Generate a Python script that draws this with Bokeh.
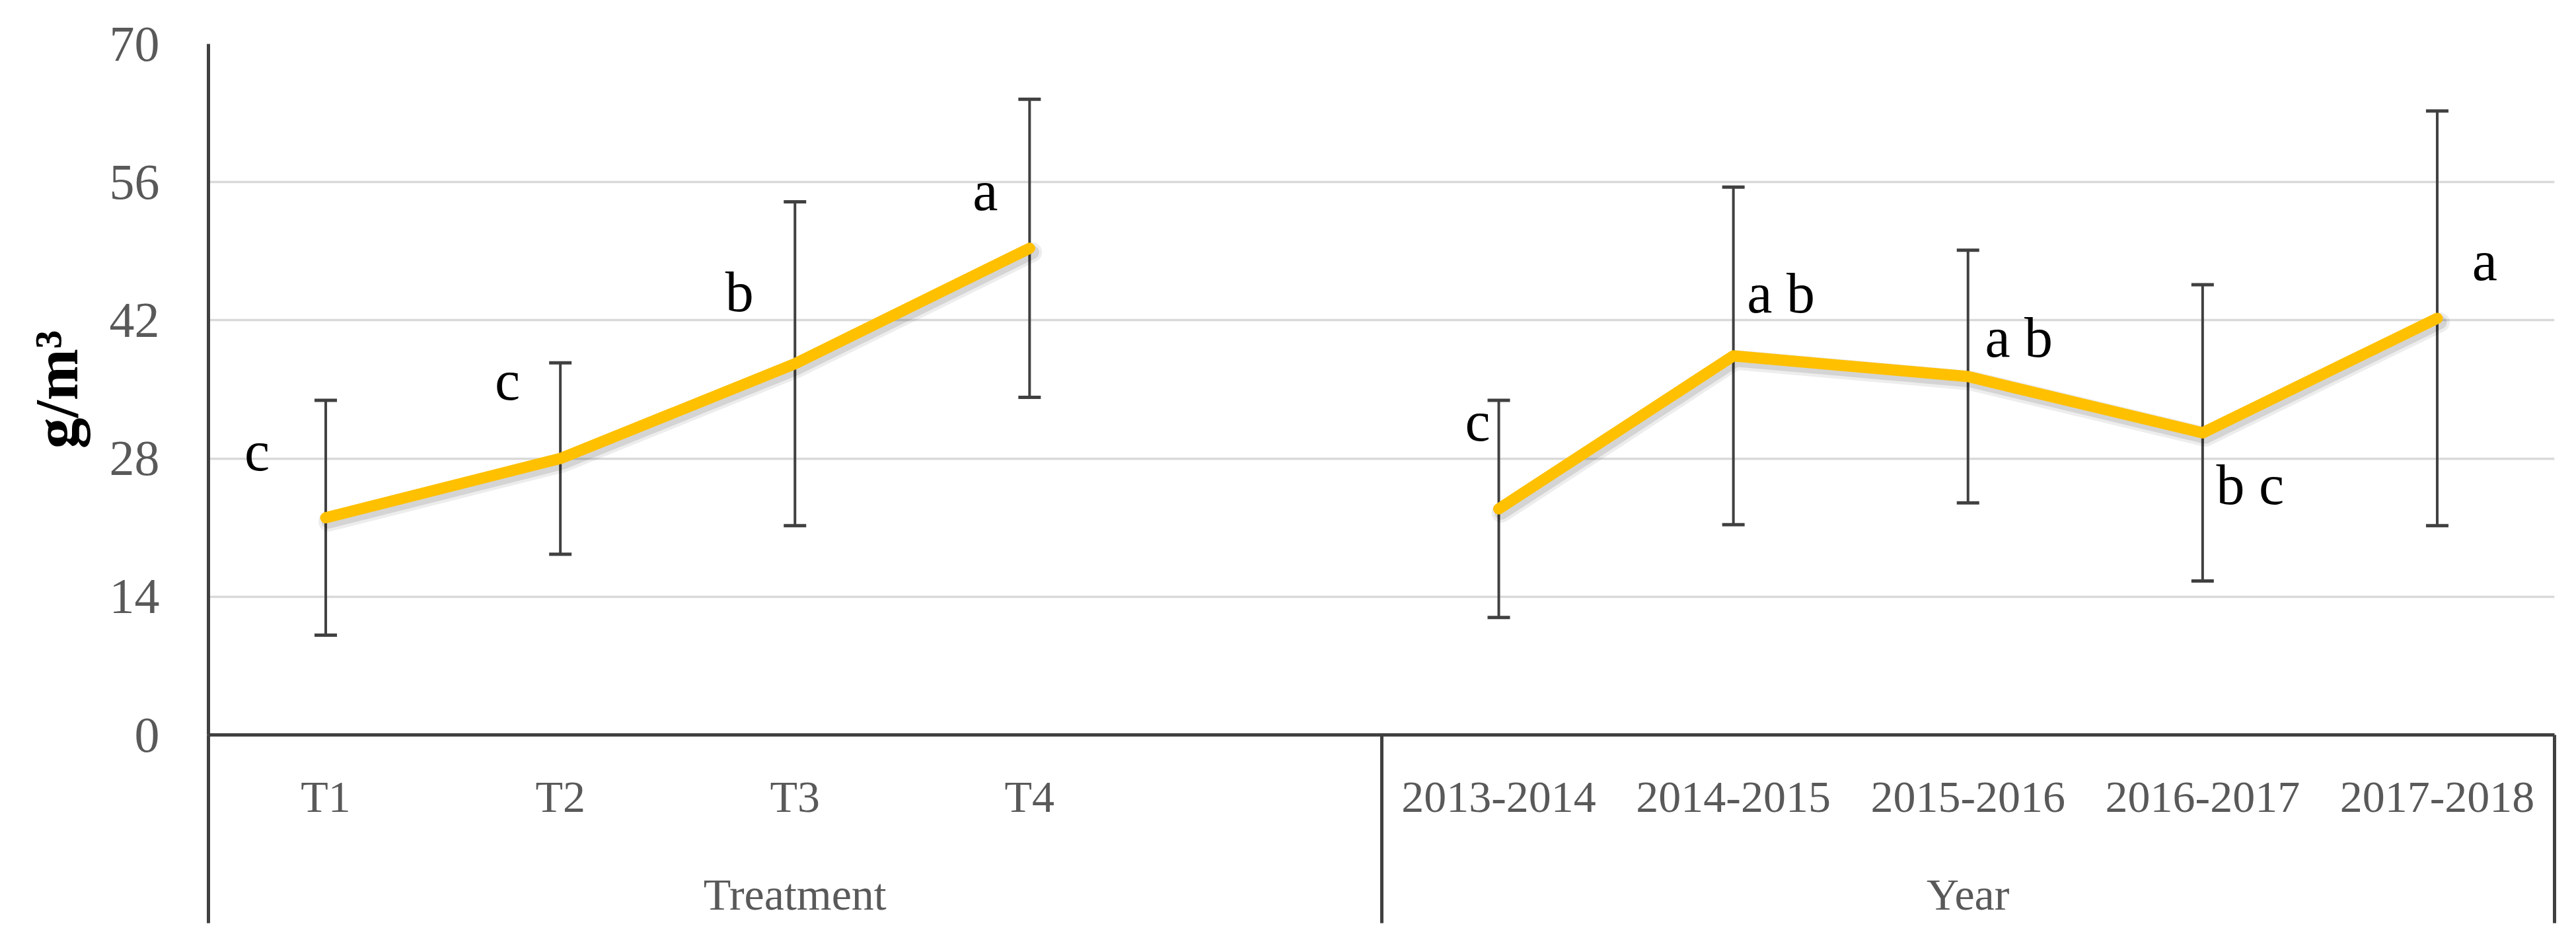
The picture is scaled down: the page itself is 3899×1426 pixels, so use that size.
from bokeh.plotting import figure
from bokeh.models import Range1d, LinearAxis, FixedTicker, ColumnDataSource, Grid
from bokeh.embed import file_html
from bokeh.resources import INLINE
from bokeh.core.properties import value

# ---------------- data ----------------
treatment_labels = ["T1", "T2", "T3", "T4"]
treatment_means = [22.0, 28.0, 37.6, 49.3]
treatment_err = [11.9, 9.7, 16.4, 15.1]
treatment_letters = ["c", "c", "b", "a"]

year_labels = ["2013-2014", "2014-2015", "2015-2016", "2016-2017", "2017-2018"]
year_means = [22.9, 38.4, 36.3, 30.6, 42.2]
year_err = [11.0, 17.1, 12.8, 15.0, 21.0]
year_letters = ["c", "a b", "a b", "b c", "a"]

group_labels = ["Treatment", "Year"]
y_ticks = [0, 14, 28, 42, 56, 70]
y_title = "g/m\u00b3"

# ---------------- layout / style ----------------
FONT = "Liberation Serif"
AX = "#404040"
TXT = "#595959"
LINE = "#FFC000"

# pixel offsets of the letter labels relative to their points (layout only)
t_lab_dx = [-104, -80, -84, -67]
t_lab_dy = [-101, -118, -109, -87]
y_lab_dx = [-32, 72, 77, 72, 72]
y_lab_dy = [-132, -95, -59, 79, -87]

n_t = len(treatment_labels)
gap = 1
t_x = list(range(n_t))
y_x = [n_t + gap + i for i in range(len(year_labels))]
n_slots = n_t + gap + len(year_labels)
bounds = [-0.5, n_t + gap - 0.5, n_slots - 0.5]
g_centers = [int((bounds[0] + bounds[1]) / 2), int((bounds[1] + bounds[2]) / 2)]

W, H = 3899, 1426
DIV_LEN = 285          # length of the category-area divider lines
CAT_GAP = 55           # gap between axis line and category labels

p = figure(width=W, height=H, output_backend="svg", toolbar_location=None,
           x_range=Range1d(bounds[0], bounds[-1]), y_range=Range1d(y_ticks[0], y_ticks[-1]),
           x_axis_type=None, y_axis_type=None,
           min_border_left=315, min_border_right=33, min_border_top=66, min_border_bottom=314)
p.outline_line_color = None
p.background_fill_color = "white"
p.border_fill_color = "white"

# y axis
yax = LinearAxis(ticker=FixedTicker(ticks=y_ticks), axis_label=y_title)
yax.axis_line_color = AX
yax.axis_line_width = 5
yax.major_tick_line_color = None
yax.minor_tick_line_color = None
yax.major_tick_out = 0
yax.major_tick_in = 0
yax.minor_tick_out = 0
yax.minor_tick_in = 0
yax.major_label_text_font = FONT
yax.major_label_text_font_size = "76px"
yax.major_label_text_color = TXT
yax.major_label_standoff = 74
yax.axis_label_text_font = FONT
yax.axis_label_text_font_size = "94px"
yax.axis_label_text_font_style = "bold"
yax.axis_label_text_color = "black"
yax.axis_label_standoff = 26
p.add_layout(yax, "left")

p.add_layout(Grid(dimension=1, ticker=FixedTicker(ticks=y_ticks),
                  grid_line_color="#d9d9d9", grid_line_width=3.5))

# category axis (labels + group dividers drawn as long minor ticks)
cat_over = {x: lab for x, lab in zip(t_x + y_x, treatment_labels + year_labels)}
xax = LinearAxis(ticker=FixedTicker(ticks=t_x + y_x, minor_ticks=bounds),
                 major_label_overrides=cat_over)
xax.axis_line_color = AX
xax.axis_line_width = 5
xax.major_tick_line_color = None
xax.major_tick_out = 0
xax.major_tick_in = 0
xax.minor_tick_line_color = AX
xax.minor_tick_line_width = 5
xax.minor_tick_out = DIV_LEN
xax.minor_tick_in = 0
xax.major_label_text_font = FONT
xax.major_label_text_font_size = "68px"
xax.major_label_text_color = TXT
xax.major_label_standoff = CAT_GAP - DIV_LEN
p.add_layout(xax, "below")

gax = LinearAxis(ticker=FixedTicker(ticks=g_centers),
                 major_label_overrides={c: g for c, g in zip(g_centers, group_labels)})
gax.axis_line_color = None
gax.major_tick_line_color = None
gax.minor_tick_line_color = None
gax.major_tick_out = 0
gax.major_tick_in = 0
gax.minor_tick_out = 0
gax.minor_tick_in = 0
gax.major_label_text_font = FONT
gax.major_label_text_font_size = "68px"
gax.major_label_text_color = TXT
gax.major_label_standoff = 69
p.add_layout(gax, "below")

# sources
def make_src(xs, means, errs, letters, dx, dy):
    return ColumnDataSource(dict(
        x=xs, y=means,
        upper=[m + e for m, e in zip(means, errs)],
        lower=[m - e for m, e in zip(means, errs)],
        lab=letters, dx=dx, dy=dy))

src_t = make_src(t_x, treatment_means, treatment_err, treatment_letters, t_lab_dx, t_lab_dy)
src_y = make_src(y_x, year_means, year_err, year_letters, y_lab_dx, y_lab_dy)

# shadow ranges (shift a few px right / down)
sdx = 4 / 355.2
sdy = 6 / 14.94
p.extra_x_ranges = {"shx": Range1d(bounds[0] - sdx, bounds[-1] - sdx)}
p.extra_y_ranges = {"shy": Range1d(y_ticks[0] + sdy, y_ticks[-1] + sdy)}

for src in (src_t, src_y):
    p.segment(x0="x", y0="lower", x1="x", y1="upper", source=src,
              line_color=AX, line_width=4)
    p.scatter(x="x", y="upper", source=src, marker="dash", size=34,
              line_color=AX, line_width=5)
    p.scatter(x="x", y="lower", source=src, marker="dash", size=34,
              line_color=AX, line_width=5)

for src in (src_t, src_y):
    p.line(x="x", y="y", source=src, line_color="black", line_alpha=0.07,
           line_width=30, line_join="round", line_cap="round",
           x_range_name="shx", y_range_name="shy")
    p.line(x="x", y="y", source=src, line_color="black", line_alpha=0.10,
           line_width=21, line_join="round", line_cap="round",
           x_range_name="shx", y_range_name="shy")
    p.line(x="x", y="y", source=src, line_color=LINE, line_width=17,
           line_join="round", line_cap="round")
    p.text(x="x", y="y", text="lab", x_offset="dx", y_offset="dy", source=src,
           text_font=value(FONT), text_font_size=value("86px"), text_color="black",
           text_align="center", text_baseline="middle")

open("out.html", "w").write(file_html(p, INLINE))
